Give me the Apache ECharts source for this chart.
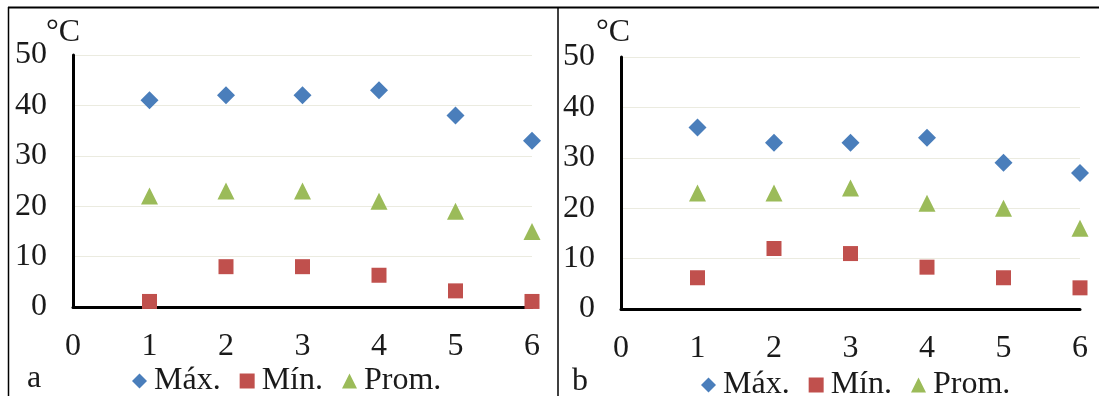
<!DOCTYPE html>
<html>
<head>
<meta charset="utf-8">
<script src="https://cdn.jsdelivr.net/npm/echarts@6/dist/echarts.min.js"></script>
<style>
  html, body { margin: 0; padding: 0; background: #fff; }
  #chart { width: 1099px; height: 396px; }
</style>
</head>
<body>
<div id="chart"></div>
<script>
// Sampling points along the x axis
const points = [1, 2, 3, 4, 5, 6];
const xTicks = [0, 1, 2, 3, 4, 5, 6];
const yTicks = [0, 10, 20, 30, 40, 50];

// Panel a temperatures (°C)
const maxA = [41, 42, 42, 43, 38, 33];
const minA = [1.1, 8, 8, 6.3, 3.2, 1.1];
const promA = [22, 23, 23, 21, 19, 15];

// Panel b temperatures (°C)
const maxB = [36, 33, 33, 34, 29, 27];
const minB = [6.2, 12, 11, 8.3, 6.2, 4.2];
const promB = [23, 23, 24, 21, 20, 16];

const seriesNames = ['Máx.', 'Mín.', 'Prom.'];
const panelLabels = ['a', 'b'];

const FONT = '"Liberation Serif", "Times New Roman", serif';
const TXT = '#1a1a1a';
const COLORS = ['#4a7ebb', '#c0504d', '#9bbb59'];
const SYMBOLS = ['diamond', 'rect', 'triangle'];
const SIZES = [18, 15, 17];

function pairs(vals) { return points.map((p, i) => [p, vals[i]]); }

function xAxisCfg(gridIndex) {
  return {
    type: 'value', gridIndex,
    min: xTicks[0], max: xTicks[xTicks.length - 1], interval: 1,
    axisLine: { show: true, onZero: false, lineStyle: { color: '#000', width: 3 } },
    axisTick: { show: false },
    splitLine: { show: false },
    axisLabel: { fontSize: 32, fontFamily: FONT, color: TXT, margin: 24 }
  };
}
function yAxisCfg(gridIndex) {
  return {
    type: 'value', gridIndex,
    min: yTicks[0], max: yTicks[yTicks.length - 1], interval: 10,
    axisLine: { show: true, lineStyle: { color: '#000', width: 3 } },
    axisTick: { show: false },
    splitLine: { show: true, lineStyle: { color: '#ebebe0', width: 1 } },
    axisLabel: { fontSize: 32, fontFamily: FONT, color: TXT, margin: 26 }
  };
}
function panelSeries(idx, sets) {
  return sets.map((vals, k) => ({
    type: 'scatter', name: seriesNames[k],
    xAxisIndex: idx, yAxisIndex: idx,
    symbol: SYMBOLS[k], symbolSize: SIZES[k],
    itemStyle: { color: COLORS[k], opacity: 1 },
    data: pairs(vals)
  }));
}
function legendCfg(left, top) {
  return {
    left, top, orient: 'horizontal', selectedMode: false,
    itemWidth: 15, itemHeight: 15, itemGap: 19,
    textStyle: { fontSize: 32, fontFamily: FONT, color: TXT, padding: [0, 0, 0, 2] },
    data: seriesNames.map((n, k) => ({ name: n, icon: SYMBOLS[k] }))
  };
}

const chart = echarts.init(document.getElementById('chart'), null, { renderer: 'canvas' });
chart.setOption({
  animation: false,
  backgroundColor: '#fff',
  grid: [
    { left: 73, right: 567, top: 55, bottom: 89 },
    { left: 621, right: 19, top: 57, bottom: 87 }
  ],
  xAxis: [xAxisCfg(0), xAxisCfg(1)],
  yAxis: [yAxisCfg(0), yAxisCfg(1)],
  legend: [legendCfg(127, 360), legendCfg(696, 364)],
  series: [
    ...panelSeries(0, [maxA, minA, promA]),
    ...panelSeries(1, [maxB, minB, promB])
  ],
  graphic: [
    // panel frames
    { type: 'line', silent: true, shape: { x1: 8, y1: 7.5, x2: 1099, y2: 7.5 }, style: { stroke: '#000', lineWidth: 2 } },
    { type: 'line', silent: true, shape: { x1: 8.5, y1: 7, x2: 8.5, y2: 396 }, style: { stroke: '#000', lineWidth: 1.5 } },
    { type: 'line', silent: true, shape: { x1: 558, y1: 7, x2: 558, y2: 396 }, style: { stroke: '#000', lineWidth: 1.5 } },
    // unit labels
    { type: 'text', silent: true, left: 46, top: 17, style: { text: '°C', font: '32px ' + FONT, fill: TXT } },
    { type: 'text', silent: true, left: 596, top: 17, style: { text: '°C', font: '32px ' + FONT, fill: TXT } },
    // panel letters
    { type: 'text', silent: true, left: 27, top: 363, style: { text: panelLabels[0], font: '32px ' + FONT, fill: TXT } },
    { type: 'text', silent: true, left: 572, top: 366, style: { text: panelLabels[1], font: '32px ' + FONT, fill: TXT } }
  ]
});
</script>
</body>
</html>
